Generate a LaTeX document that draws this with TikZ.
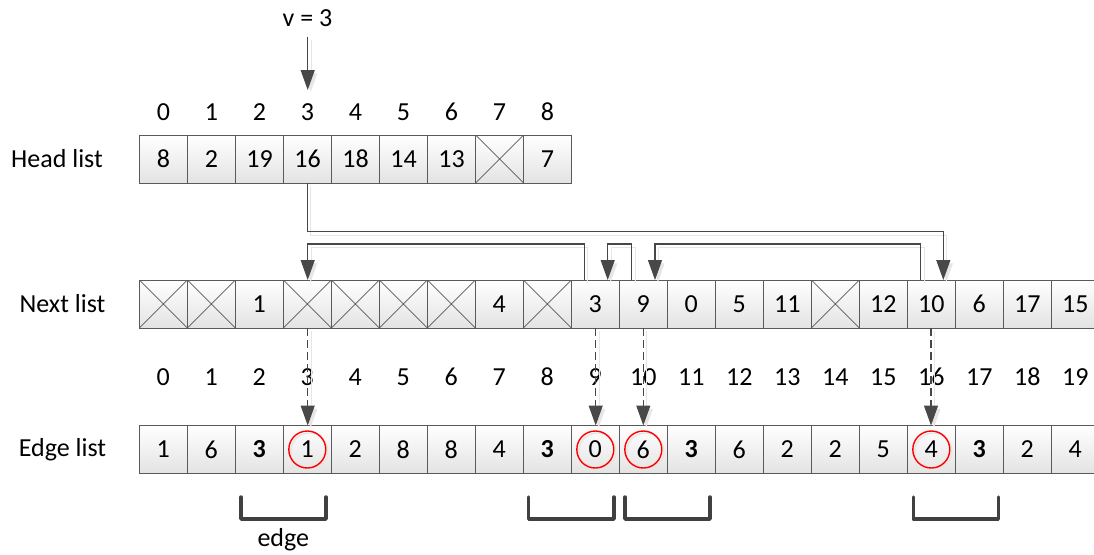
\documentclass[tikz,border=0pt]{standalone}
\usepackage{fontspec}
\setmainfont{Carlito}
\usetikzlibrary{arrows.meta,calc}
\definecolor{linec}{HTML}{484848}
\definecolor{cellc}{HTML}{5A5A5A}
\definecolor{shadowc}{HTML}{E6E6E6}
\begin{document}
\begin{tikzpicture}[x=1pt,y=-1pt,
  font=\fontsize{26}{31}\selectfont,
  cell/.style={draw=cellc, line width=0.8pt, minimum width=48pt, minimum height=48pt,
    inner sep=0pt, outer sep=0pt, top color=white, bottom color=black!11},
  xcell/.style={cell, path picture={\draw[cellc, line width=0.7pt]
      (path picture bounding box.south west) -- (path picture bounding box.north east)
      (path picture bounding box.north west) -- (path picture bounding box.south east);}},
  lbl/.style={inner sep=0pt},
  shadowed/.style={preaction={draw=shadowc, transform canvas={shift={(3pt,-3pt)}}}},
  conn/.style={draw=linec, line width=1.2pt, -{Triangle[length=20pt,width=14pt]}, shadowed},
  dconn/.style={conn, dash pattern=on 8pt off 4pt},
  redc/.style={circle, draw=red, line width=1.4pt, minimum size=37pt, inner sep=0pt,
    preaction={draw=shadowc, transform canvas={shift={(2pt,-2pt)}}}},
  brk/.style={draw=black!75, line width=3.5pt, line join=round, line cap=round}
]
\useasboundingbox (0,0) rectangle (1094,554);
\clip (0,0) rectangle (1094,554);

% row labels
\node[lbl] (lh) at (57,159) {Head list};
\node[lbl] (ln) at (62.5,304) {Next list};
\node[lbl] (le) at (62.5,449.5) {Edge list};

% head list
\foreach \v/\s [count=\i from 0] in {8/cell,2/cell,19/cell,16/cell,18/cell,14/cell,13/cell,{}/xcell,7/cell}
  \node[\s] (h\i) at ({163.5+48*\i},159) {\v};
\foreach \i in {0,...,8}
  \node[lbl] (hi\i) at ({163.5+48*\i},112) {\i};

% next list
\foreach \v/\s [count=\i from 0] in {{}/xcell,{}/xcell,1/cell,{}/xcell,{}/xcell,{}/xcell,{}/xcell,4/cell,{}/xcell,3/cell,
  9/cell,0/cell,5/cell,11/cell,{}/xcell,12/cell,10/cell,6/cell,17/cell,15/cell}
  \node[\s] (n\i) at ({163.3+48*\i},304) {\v};

% indices
\foreach \i in {0,...,19}
  \node[lbl] (ei\i) at ({163.3+48*\i},377) {\i};

% edge list
\foreach \v/\s [count=\i from 0] in {1/cell,6/cell,{\textbf{3}}/cell,1/cell,2/cell,8/cell,8/cell,4/cell,{\textbf{3}}/cell,0/cell,
  6/cell,{\textbf{3}}/cell,6/cell,2/cell,2/cell,5/cell,4/cell,{\textbf{3}}/cell,2/cell,4/cell}
  \node[\s] (e\i) at ({163.3+48*\i},449.5) {\v};

% red circles
\foreach \k in {3,9,10,16}
  \node[redc] (r\k) at (e\k) {};

% v = 3
\node[lbl] (v) at (307.5,18) {v = 3};
\coordinate (vtip) at (307.7,90);
\draw[conn] ($(v.south)+(0.2,10)$) -- (vtip);

% head -> next
\draw[conn] (h3.south) |- ($(n16.north)+(12,-48.3)$) -- ($(n16.north)+(12,0)$);
\draw[conn] ($(n16.north)+(-10.6,0)$) |- ($(n10.north)+(11.7,-36)$) -- ($(n10.north)+(11.7,0)$);
\draw[conn] ($(n10.north)+(-11.6,0)$) |- ($(n9.north)+(12.4,-36)$) -- ($(n9.north)+(12.4,0)$);
\draw[conn] ($(n9.north)+(-11,0)$) |- ($(n3.north)+(0.4,-36)$) -- ($(n3.north)+(0.4,0)$);

% next -> edge (dashed)
\draw[dconn] ($(n3.south)+(0.4,0)$) -- ($(e3.north)+(0.4,0)$);
\draw[dconn] ($(n9.south)+(0.4,0)$) -- ($(e9.north)+(0.4,0)$);
\draw[dconn] ($(n10.south)+(0,0)$) -- ($(e10.north)+(0,0)$);
\draw[dconn] ($(n16.south)+(-0.3,0)$) -- ($(e16.north)+(-0.3,0)$);

% brackets
\draw[brk] ($(e2.south west)+(5.7,23.5)$) |- ($(e3.south east)+(-5.3,45.5)$) -- ($(e3.south east)+(-5.3,23.5)$);
\draw[brk] ($(e8.south west)+(5.4,23.5)$) |- ($(e9.south east)+(-5.3,45.5)$) -- ($(e9.south east)+(-5.3,23.5)$);
\draw[brk] ($(e10.south west)+(5.7,23.5)$) |- ($(e11.south east)+(-5.3,45.5)$) -- ($(e11.south east)+(-5.3,23.5)$);
\draw[brk] ($(e16.south west)+(6,23.5)$) |- ($(e17.south east)+(-5,45.5)$) -- ($(e17.south east)+(-5,23.5)$);
\node[lbl] (edgelbl) at ($(e2.south east)+(0,66)$) {edge};
\end{tikzpicture}
\end{document}
